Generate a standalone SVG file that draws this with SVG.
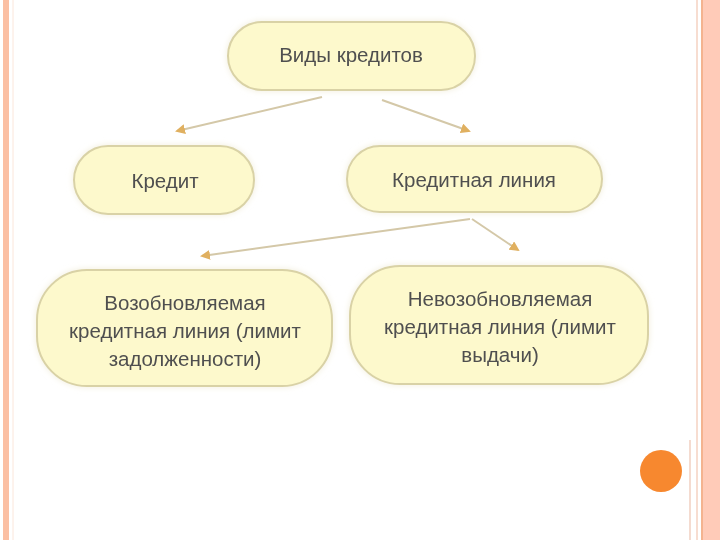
<svg xmlns="http://www.w3.org/2000/svg" width="720" height="540" viewBox="0 0 720 540">
<defs>
<style>
.node rect{fill:#fdf9cc;stroke:#d9d2a6;stroke-width:2}
.node text{font-family:"Liberation Sans",Arial,sans-serif;font-size:20.5px;fill:#505050;text-anchor:middle}
.conn line{stroke:#d4c8a8;stroke-width:2;marker-end:url(#ah)}
</style>
<marker id="ah" viewBox="0 0 10 10" refX="8" refY="5" markerWidth="5" markerHeight="5" orient="auto">
<path d="M0,0 L10,5 L0,10 z" fill="#e0b060"/>
</marker>
<filter id="glow" x="-20%" y="-30%" width="140%" height="160%">
<feGaussianBlur in="SourceAlpha" stdDeviation="4"/>
<feFlood flood-color="#f2eedc"/>
<feComposite operator="in" in2="SourceAlpha"/>
<feGaussianBlur stdDeviation="3"/>
<feMerge><feMergeNode/><feMergeNode in="SourceGraphic"/></feMerge>
</filter>
</defs>
<rect width="720" height="540" fill="#ffffff"/>
<rect x="3" y="0" width="6" height="540" fill="#fbbfa3"/>
<line x1="13" y1="0" x2="13" y2="540" stroke="#fbe6da" stroke-width="1"/>
<rect x="703" y="0" width="17" height="540" fill="#ffcbb8"/>
<line x1="702" y1="0" x2="702" y2="540" stroke="#f09a6a" stroke-width="1.5"/>
<line x1="697" y1="0" x2="697" y2="540" stroke="#f4d2c2" stroke-width="1.5"/>
<line x1="690" y1="440" x2="690" y2="540" stroke="#f0cfc0" stroke-width="1.5"/>
<circle cx="661" cy="471" r="21" fill="#f7882f"/>
<g class="conn">
<line x1="322" y1="97" x2="177" y2="131"/>
<line x1="382" y1="100" x2="469" y2="131"/>
<line x1="470" y1="219" x2="202" y2="256"/>
<line x1="472" y1="219" x2="518" y2="250"/>
</g>
<g id="n-vidy" class="node" filter="url(#glow)">
<rect x="228" y="22" width="247" height="68" rx="34"/>
<text x="351" y="62">Виды кредитов</text>
</g>
<g id="n-kredit" class="node" filter="url(#glow)">
<rect x="74" y="146" width="180" height="68" rx="34"/>
<text x="165" y="188">Кредит</text>
</g>
<g id="n-liniya" class="node" filter="url(#glow)">
<rect x="347" y="146" width="255" height="66" rx="33"/>
<text x="474" y="187">Кредитная линия</text>
</g>
<g id="n-vozob" class="node" filter="url(#glow)">
<rect x="37" y="270" width="295" height="116" rx="50"/>
<text x="185" y="310">Возобновляемая</text>
<text x="185" y="338">кредитная линия (лимит</text>
<text x="185" y="366">задолженности)</text>
</g>
<g id="n-nevozob" class="node" filter="url(#glow)">
<rect x="350" y="266" width="298" height="118" rx="50"/>
<text x="500" y="306">Невозобновляемая</text>
<text x="500" y="334">кредитная линия (лимит</text>
<text x="500" y="362">выдачи)</text>
</g>
</svg>
